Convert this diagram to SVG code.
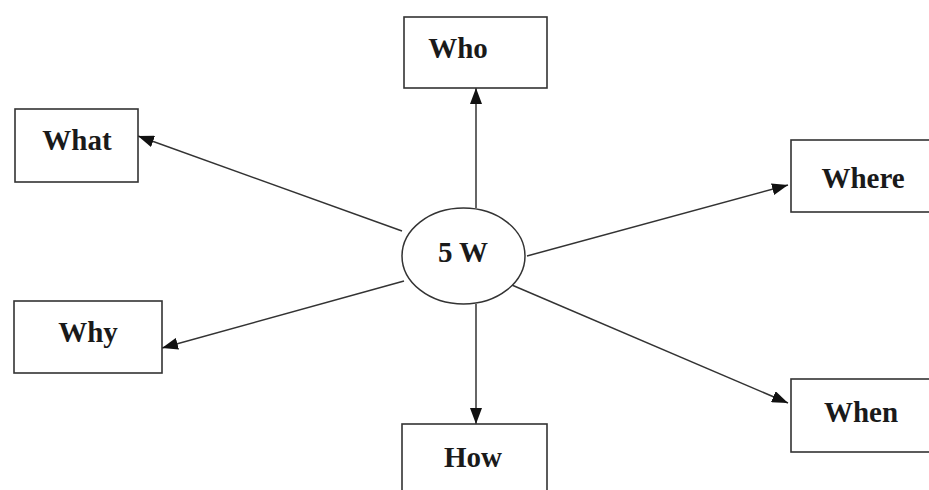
<svg xmlns="http://www.w3.org/2000/svg" width="929" height="490" viewBox="0 0 929 490">
<defs>
<marker id="ah" markerUnits="userSpaceOnUse" markerWidth="16" markerHeight="12" refX="16" refY="6" orient="auto">
<path d="M0,0 L16,6 L0,12 Z" fill="#111"/>
</marker>
<style>
.box{fill:#fff;stroke:#333;stroke-width:1.6}
.lbl{font-family:"Liberation Serif","Times New Roman",serif;font-weight:bold;font-size:29px;fill:#1a1a1a;text-anchor:middle}
.con{stroke:#333;stroke-width:1.5;fill:none;marker-end:url(#ah)}
</style>
</defs>
<rect width="929" height="490" fill="#fff"/>
<g id="connectors">
<line class="con" x1="476" y1="208" x2="476" y2="88"/>
<line class="con" x1="402" y1="231" x2="138" y2="136"/>
<line class="con" x1="527" y1="256" x2="788" y2="185"/>
<line class="con" x1="404" y1="281" x2="162" y2="348"/>
<line class="con" x1="500" y1="280" x2="788" y2="403"/>
<line class="con" x1="476" y1="304" x2="476" y2="424"/>
</g>
<g id="center">
<ellipse cx="463.5" cy="256" rx="61.5" ry="48" fill="#fff" stroke="#333" stroke-width="1.5"/>
<text class="lbl" x="463" y="262" font-size="26">5 W</text>
</g>
<g id="who">
<rect class="box" x="404" y="17" width="143" height="71"/>
<text class="lbl" x="458" y="58">Who</text>
</g>
<g id="what">
<rect class="box" x="15" y="109" width="123" height="73"/>
<text class="lbl" x="77" y="150">What</text>
</g>
<g id="where">
<rect class="box" x="791" y="140" width="140" height="72"/>
<text class="lbl" x="863" y="188">Where</text>
</g>
<g id="why">
<rect class="box" x="14" y="301" width="148" height="72"/>
<text class="lbl" x="88" y="342">Why</text>
</g>
<g id="when">
<rect class="box" x="791" y="379" width="140" height="73"/>
<text class="lbl" x="861" y="422">When</text>
</g>
<g id="how">
<rect class="box" x="402" y="424" width="145" height="80"/>
<text class="lbl" x="473" y="467">How</text>
</g>
</svg>
